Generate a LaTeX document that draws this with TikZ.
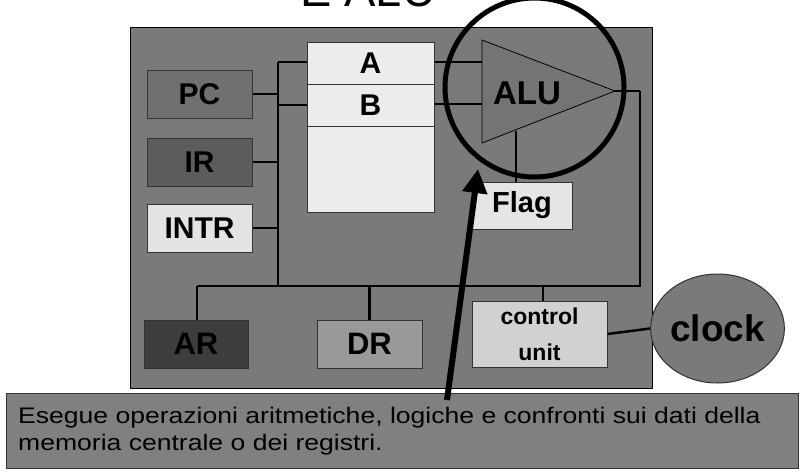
\documentclass[tikz,border=0pt]{standalone}
\usepackage{fontspec}
\setmainfont{Liberation Sans}
\newfontfamily\descfont[FakeStretch=1.18]{Liberation Sans}
\usetikzlibrary{arrows.meta,shapes.geometric}
\definecolor{panelgray}{gray}{0.48}
\definecolor{pcgray}{gray}{0.44}
\definecolor{irgray}{gray}{0.36}
\definecolor{intrgray}{gray}{0.89}
\definecolor{reggray}{gray}{0.925}
\definecolor{flaggray}{gray}{0.90}
\definecolor{argray}{gray}{0.24}
\definecolor{drgray}{gray}{0.60}
\definecolor{cugray}{gray}{0.82}
\definecolor{descgray}{gray}{0.50}
\tikzset{
  regbox/.style={draw=black!80, line width=1pt, rectangle, inner sep=0pt, font=\bfseries\fontsize{30}{36}\selectfont},
  bus/.style={line width=2.5pt, black},
  desctext/.style={anchor=base west, inner sep=0pt, font=\descfont\fontsize{22.5}{25}\selectfont},
}
\begin{document}
\begin{tikzpicture}[x=1pt,y=-1pt]
\useasboundingbox (0,0) rectangle (803,472);
% title (partly cut)
\node[anchor=base west, inner sep=0pt, font=\fontsize{47}{50}\selectfont] (title) at (300,6) {E ALU};
% main panel
\fill[panelgray, draw=black, line width=1pt] (130,27) rectangle (652,388);
% bus lines
\coordinate (busTop) at (278,62);
\coordinate (busBot) at (278,286);
\coordinate (busL) at (197,286);
\coordinate (busR) at (640,286);
\coordinate (outC) at (640,91);
\draw[bus] (busTop) -- (busBot);
\draw[bus] (busL) -- (busR) -- (outC);
% boxes
\node[regbox, fill=pcgray, minimum width=105, minimum height=48] (PC) at (199.5,94) {PC};
\node[regbox, fill=irgray, minimum width=105, minimum height=48] (IR) at (199.5,162) {IR};
\node[regbox, fill=intrgray, minimum width=105, minimum height=48] (INTR) at (199.5,228) {INTR};
\node[regbox, fill=reggray, minimum width=127, minimum height=42] (A) at (370.5,63) {A};
\node[regbox, fill=reggray, minimum width=127, minimum height=42] (B) at (370.5,105) {B};
\node[regbox, fill=reggray, minimum width=127, minimum height=86] (R) at (370.5,169) {};
\node[regbox, fill=flaggray, minimum width=100, minimum height=47, font=\bfseries\fontsize{29}{34}\selectfont] (Flag) at (522,205.5) {Flag};
\node[regbox, fill=argray, minimum width=104, minimum height=48, font=\bfseries\fontsize{31}{36}\selectfont] (AR) at (196,344) {AR};
\node[regbox, fill=drgray, minimum width=105, minimum height=48, font=\bfseries\fontsize{31}{36}\selectfont] (DR) at (369.5,344) {DR};
\node[regbox, fill=cugray, minimum width=135, minimum height=66, align=center, font=\bfseries\fontsize{23}{36}\selectfont] (CU) at (539.5,334) {control\\unit};
\node[draw=black!80, line width=1pt, ellipse, fill=panelgray, minimum width=119, minimum height=109, inner sep=0pt, font=\bfseries\fontsize{37}{40}\selectfont] (clock) at (717.5,328.5) {clock};
% ALU triangle
\coordinate (t1) at (482,40);
\coordinate (t2) at (482,143);
\coordinate (t3) at (615,91);
\fill[panelgray!95!black, draw=black, line width=0.8pt] (t1) -- (t3) -- (t2) -- cycle;
\node[font=\bfseries\fontsize{33}{36}\selectfont, inner sep=0pt] (ALU) at (527,93) {ALU};
% connectors
\draw[bus] (PC.east) -- (PC.east -| busTop);
\draw[bus] (IR.east) -- (IR.east -| busTop);
\draw[bus] (INTR.east) -- (INTR.east -| busTop);
\draw[bus] (busTop) -- (busTop -| A.west);
\draw[bus] (B.west -| busTop) -- (B.west);
\draw[bus] (A.east |- 0,62) -- (t1 |- 0,62);
\draw[bus] (B.east |- 0,104) -- (t1 |- 0,104);
\draw[bus] (t3) -- (outC);
\draw[bus] (516,131) -- (Flag.north -| 516,0);
\draw[bus] (busL) -- (AR.north -| busL);
\draw[bus] (DR.north |- busL) -- (DR.north);
\draw[bus] (CU.north -| 543,0) -- (543,286);
\draw[bus] (CU.east) -- (clock.west);
% big circle
\node[draw=black, line width=5pt, circle, minimum size=179, inner sep=0pt] (ring) at (534.5,87.5) {};
% description box
\node[draw=black!80, line width=1pt, fill=descgray, rectangle, minimum width=792, minimum height=75, inner sep=0pt] (desc) at (402,430.5) {};
\node[desctext] (d1) at (18,423) {Esegue operazioni aritmetiche, logiche e confronti sui dati della};
\node[desctext] (d2) at (18,450) {memoria centrale o dei registri.};
% arrow
\coordinate (arrS) at (447,400);
\coordinate (arrE) at (478,169);
\draw[line width=6pt, -{Triangle[length=24pt,width=24pt]}] (arrS) -- (arrE);
\end{tikzpicture}
\end{document}
